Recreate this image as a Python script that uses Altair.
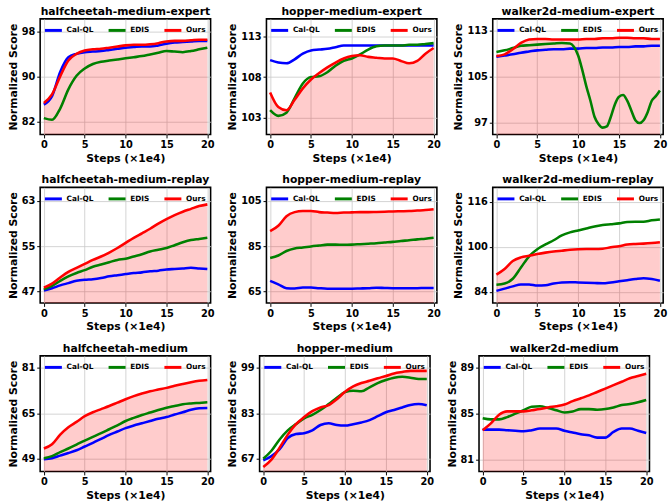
import altair as alt
import pandas as pd

# Training curves (normalized score vs. steps, x1e4) for nine D4RL tasks
STEPS = list(range(21))
METHODS = ["Cal-QL", "EDIS", "Ours"]
COLORS = ["#0000ff", "#008000", "#ff0000"]

TASKS = [
    "halfcheetah-medium-expert", "hopper-medium-expert", "walker2d-medium-expert",
    "halfcheetah-medium-replay", "hopper-medium-replay", "walker2d-medium-replay",
    "halfcheetah-medium", "hopper-medium", "walker2d-medium",
]

Y_DOMAINS = {
    "halfcheetah-medium-expert": [79.7, 100.2],
    "hopper-medium-expert": [100.9, 115.2],
    "walker2d-medium-expert": [94.9, 115.1],
    "halfcheetah-medium-replay": [45.0, 65.4],
    "hopper-medium-replay": [60.0, 110.9],
    "walker2d-medium-replay": [80.0, 121.1],
    "halfcheetah-medium": [44.5, 85.3],
    "hopper-medium": [62.5, 103.3],
    "walker2d-medium": [79.93, 90.07],
}

Y_TICKS = {
    "halfcheetah-medium-expert": [82, 90, 98],
    "hopper-medium-expert": [103, 108, 113],
    "walker2d-medium-expert": [97, 105, 113],
    "halfcheetah-medium-replay": [47, 55, 63],
    "hopper-medium-replay": [65, 85, 105],
    "walker2d-medium-replay": [84, 100, 116],
    "halfcheetah-medium": [49, 65, 81],
    "hopper-medium": [67, 83, 99],
    "walker2d-medium": [81, 85, 89],
}

CALQL = {
    "halfcheetah-medium-expert": [85.0, 86.5, 90.8, 93.4, 94.0, 94.3, 94.4, 94.5, 94.7, 94.9, 95.1,
                                  95.2, 95.3, 95.3, 95.5, 95.8, 96.0, 96.1, 96.2, 96.3, 96.3],
    "hopper-medium-expert": [110.1, 109.8, 109.7, 110.2, 110.9, 111.3, 111.4, 111.5, 111.7, 111.9, 111.9,
                             111.9, 111.9, 111.9, 111.9, 111.9, 111.9, 111.9, 111.9, 111.9, 111.9],
    "walker2d-medium-expert": [108.5, 108.7, 108.9, 109.2, 109.4, 109.6, 109.7, 109.8, 109.8, 109.9, 109.9,
                               110.0, 110.0, 110.1, 110.1, 110.2, 110.2, 110.3, 110.3, 110.4, 110.4],
    "halfcheetah-medium-replay": [47.2, 47.6, 48.1, 48.5, 48.9, 49.1, 49.2, 49.4, 49.7, 49.9, 50.1,
                                  50.3, 50.4, 50.6, 50.7, 50.9, 51.0, 51.1, 51.2, 51.1, 51.0],
    "hopper-medium-replay": [69.7, 68.2, 66.5, 66.4, 66.8, 66.8, 66.5, 66.3, 66.3, 66.3, 66.3,
                             66.4, 66.5, 66.7, 66.6, 66.5, 66.5, 66.5, 66.5, 66.6, 66.6],
    "walker2d-medium-replay": [84.3, 85.1, 85.9, 86.6, 86.6, 86.2, 86.3, 86.9, 87.3, 87.4, 87.3,
                               87.2, 87.1, 87.0, 87.3, 87.7, 88.1, 88.5, 88.8, 88.5, 87.9],
    "halfcheetah-medium": [48.8, 49.2, 50.1, 51.0, 52.0, 53.3, 54.6, 56.0, 57.4, 58.6, 59.8,
                           60.7, 61.5, 62.3, 63.1, 63.7, 64.6, 65.4, 66.3, 66.8, 66.9],
    "hopper-medium": [66.4, 67.9, 70.4, 74.3, 75.7, 76.0, 77.0, 78.9, 79.5, 78.9, 78.7,
                      79.2, 79.8, 80.6, 82.0, 83.4, 84.2, 85.1, 86.0, 86.3, 85.9],
    "walker2d-medium": [83.6, 83.6, 83.6, 83.55, 83.5, 83.45, 83.55, 83.7, 83.7, 83.7, 83.5,
                        83.35, 83.2, 83.1, 82.9, 82.9, 83.4, 83.7, 83.7, 83.5, 83.3],
}

EDIS = {
    "halfcheetah-medium-expert": [82.6, 82.3, 84.3, 87.7, 90.1, 91.4, 92.2, 92.6, 92.8, 93.0, 93.2,
                                  93.4, 93.6, 93.9, 94.2, 94.5, 94.4, 94.3, 94.5, 94.8, 95.1],
    "hopper-medium-expert": [103.9, 103.2, 103.6, 105.4, 107.2, 108.0, 108.1, 108.6, 109.4, 110.0, 110.3,
                             110.8, 111.4, 111.8, 111.9, 111.9, 111.9, 112.0, 112.0, 112.1, 112.2],
    "halfcheetah-medium-replay": [47.4, 48.0, 48.9, 49.7, 50.3, 50.8, 51.4, 51.8, 52.2, 52.6, 52.8,
                                  53.2, 53.6, 54.1, 54.4, 54.7, 55.2, 55.7, 56.1, 56.3, 56.5],
    "hopper-medium-replay": [79.8, 80.9, 82.9, 84.0, 84.4, 84.9, 85.3, 85.7, 85.7, 85.6, 85.7,
                             85.9, 86.1, 86.3, 86.6, 86.9, 87.3, 87.6, 88.0, 88.3, 88.7],
    "walker2d-medium-replay": [86.5, 86.9, 88.6, 92.6, 96.6, 99.1, 100.8, 102.3, 104.0, 105.1, 105.8,
                               106.5, 107.2, 107.7, 108.0, 108.3, 108.8, 108.9, 108.9, 109.4, 109.7],
    "halfcheetah-medium": [49.2, 49.9, 51.3, 52.6, 54.0, 55.4, 56.7, 58.0, 59.4, 60.8, 62.3,
                           63.4, 64.4, 65.3, 66.2, 67.0, 67.6, 68.2, 68.5, 68.7, 68.9],
    "hopper-medium": [67.0, 69.8, 73.8, 77.0, 79.2, 81.2, 82.5, 84.2, 86.3, 88.5, 90.5,
                      91.0, 90.8, 92.2, 93.7, 94.8, 95.6, 95.9, 95.6, 95.1, 95.1],
    "walker2d-medium": [84.6, 84.5, 84.5, 84.7, 85.0, 85.3, 85.6, 85.65, 85.5, 85.3, 85.1,
                        85.2, 85.4, 85.4, 85.35, 85.4, 85.55, 85.75, 85.85, 86.0, 86.2],
}

# walker2d-medium-expert EDIS collapses after step 9, sampled every half step
EDIS_WALKER_ME_STEPS = list(range(10)) + [9.5 + 0.5 * i for i in range(22)]
EDIS_WALKER_ME = [109.3, 109.6, 110.0, 110.4, 110.5, 110.6, 110.7, 110.8, 110.9, 110.8,
                  110.2, 108.7, 106.2, 103.3, 100.8, 98.0, 96.7, 96.1, 96.3, 98.0,
                  100.2, 101.5, 101.8, 100.8, 99.1, 97.4, 96.9, 97.4, 98.8, 100.8,
                  101.6, 102.6]

OURS = {
    "halfcheetah-medium-expert": [85.3, 86.8, 90.0, 92.8, 94.0, 94.6, 94.8, 94.9, 95.1, 95.3, 95.5,
                                  95.6, 95.6, 95.7, 95.9, 96.2, 96.3, 96.3, 96.4, 96.5, 96.5],
    "hopper-medium-expert": [106.1, 104.3, 103.9, 105.2, 106.6, 107.7, 108.5, 109.2, 109.8, 110.3, 110.6,
                             110.7, 110.5, 110.4, 110.3, 110.3, 110.0, 109.7, 110.0, 110.9, 111.6],
    "walker2d-medium-expert": [108.6, 108.9, 109.8, 110.9, 111.5, 111.6, 111.6, 111.5, 111.5, 111.5, 111.5,
                               111.6, 111.6, 111.7, 111.7, 111.8, 111.8, 111.7, 111.7, 111.6, 111.6],
    "halfcheetah-medium-replay": [47.7, 48.4, 49.5, 50.5, 51.2, 51.9, 52.6, 53.2, 53.9, 54.7, 55.6,
                                  56.5, 57.3, 58.1, 59.0, 59.8, 60.5, 61.1, 61.6, 62.1, 62.4],
    "hopper-medium-replay": [91.6, 94.0, 98.2, 100.0, 100.5, 100.5, 100.0, 99.8, 99.6, 99.8, 99.9,
                             100.0, 100.0, 100.1, 100.2, 100.3, 100.4, 100.5, 100.7, 100.9, 101.3],
    "walker2d-medium-replay": [90.1, 92.1, 94.9, 96.2, 96.8, 97.4, 97.9, 98.3, 98.6, 98.9, 99.1,
                               99.2, 99.2, 99.3, 99.8, 100.2, 100.8, 101.0, 101.1, 101.3, 101.6],
    "halfcheetah-medium": [52.6, 54.1, 57.5, 60.1, 62.0, 64.0, 65.4, 66.5, 67.6, 68.8, 70.0,
                           71.1, 72.0, 72.8, 73.4, 74.0, 74.75, 75.4, 76.0, 76.5, 76.8],
    "hopper-medium": [64.1, 66.7, 70.9, 75.5, 79.2, 81.7, 83.8, 85.1, 85.9, 88.0, 90.6,
                      92.5, 93.7, 94.5, 95.4, 96.2, 97.1, 97.6, 98.0, 98.0, 98.0],
    "walker2d-medium": [83.55, 84.15, 84.9, 85.2, 85.2, 85.2, 85.3, 85.4, 85.55, 85.65, 85.8,
                        86.1, 86.35, 86.6, 86.9, 87.2, 87.5, 87.8, 88.1, 88.3, 88.5],
}

PLOT_W, PLOT_H = 174, 118
FONT = "DejaVu Sans"


def series_rows(task):
    rows = []
    for s, v in zip(STEPS, CALQL[task]):
        rows.append({"step": s, "score": v, "method": "Cal-QL"})
    if task == "walker2d-medium-expert":
        edis = zip(EDIS_WALKER_ME_STEPS, EDIS_WALKER_ME)
    else:
        edis = zip(STEPS, EDIS[task])
    for s, v in edis:
        rows.append({"step": s, "score": v, "method": "EDIS"})
    for s, v in zip(STEPS, OURS[task]):
        rows.append({"step": s, "score": v, "method": "Ours"})
    return pd.DataFrame(rows)


def panel(task):
    df = series_rows(task)
    ours = df[df["method"] == "Ours"]
    x = alt.X("step:Q",
              scale=alt.Scale(domain=[-0.45, 20.4], nice=False, zero=False),
              axis=alt.Axis(values=[0, 5, 10, 15, 20], title="Steps (×1e4)", format="d"))
    y = alt.Y("score:Q",
              scale=alt.Scale(domain=Y_DOMAINS[task], nice=False, zero=False),
              axis=alt.Axis(values=Y_TICKS[task], title="Normalized Score", format="d"))
    fill = alt.Chart(ours).mark_area(
        color="#ff0000", opacity=0.2, interpolate="monotone", clip=True
    ).encode(x=x, y=y, y2=alt.value(PLOT_H))
    lines = alt.Chart(df).mark_line(
        strokeWidth=2.6, interpolate="monotone", clip=True
    ).encode(
        x=x, y=y,
        color=alt.Color("method:N",
                        scale=alt.Scale(domain=METHODS, range=COLORS),
                        legend=alt.Legend(title=None, orient="none", direction="horizontal",
                                          legendX=3, legendY=1)),
        order=alt.Order("step:Q"),
    )
    return alt.layer(fill, lines).properties(
        width=PLOT_W, height=PLOT_H,
        title=alt.TitleParams(task, frame="group", anchor="middle"),
    )


rows = []
for r in range(3):
    row = alt.hconcat(*[panel(t) for t in TASKS[3 * r:3 * r + 3]], spacing=10)
    row = row.resolve_scale(x="independent", y="independent", color="independent")
    row = row.resolve_legend(color="independent")
    rows.append(row)

chart = alt.vconcat(*rows, spacing=9).resolve_scale(
    x="independent", y="independent", color="independent"
).resolve_legend(color="independent").properties(
    padding={"left": 6, "top": 0, "right": 4, "bottom": 0},
    background="white",
).configure_view(
    stroke="black", strokeWidth=1.6
).configure_axis(
    labelFont=FONT, labelFontSize=10, labelFontWeight="bold", labelColor="black",
    titleFont=FONT, titleFontSize=11, titleFontWeight="bold", titleColor="black",
    tickColor="black", tickSize=3.5, tickWidth=1, labelPadding=2, titlePadding=3,
    domain=False, gridColor="#c8c8c8", gridWidth=0.8,
).configure_title(
    font=FONT, fontSize=11, fontWeight="bold", color="black", offset=2,
).configure_legend(
    labelFont=FONT, labelFontSize=7.5, labelFontWeight="bold", labelColor="black",
    symbolType="stroke", symbolStrokeWidth=3, symbolSize=300,
    columnPadding=8, labelOffset=3, padding=0,
)

chart.save("out.html", embed_options={"renderer": "svg", "actions": False})
